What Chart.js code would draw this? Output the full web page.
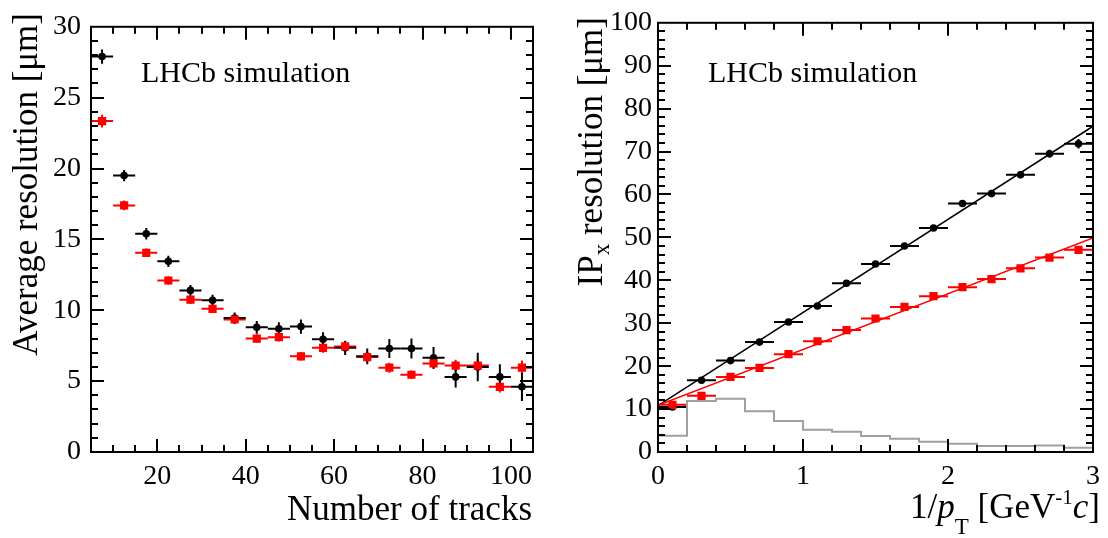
<!DOCTYPE html>
<html lang="en">
<head>
<script src="https://cdn.jsdelivr.net/npm/chart.js@4.4.0/dist/chart.umd.min.js"></script>
<style>
    html, body { margin: 0; padding: 0; background: #fff; }
    #wrap { position: relative; width: 1108px; height: 538px; }
    .panel { position: absolute; top: 0; width: 554px; height: 538px; }
</style>
</head>
<body>

<div id="wrap">
    <div class="panel" style="left:0"><canvas id="tracks-chart" width="554" height="538"></canvas></div>
    <div class="panel" style="left:554px"><canvas id="ip-chart" width="554" height="538"></canvas></div>
</div>

<script>
    // left: average resolution vs number of tracks (bins of 5)
    const nTracks  = [7.5, 12.5, 17.5, 22.5, 27.5, 32.5, 37.5, 42.5, 47.5, 52.5, 57.5, 62.5, 67.5, 72.5, 77.5, 82.5, 87.5, 92.5, 97.5, 102.5];
    const resBlack = [27.9, 19.5, 15.4, 13.45, 11.4, 10.7, 9.45, 8.8, 8.7, 8.85, 7.95, 7.35, 6.75, 7.3, 7.3, 6.65, 5.3, 6.0, 5.3, 4.6];
    const errBlack = [0.5, 0.4, 0.4, 0.4, 0.38, 0.4, 0.4, 0.45, 0.45, 0.5, 0.5, 0.5, 0.55, 0.67, 0.7, 0.75, 0.75, 1.0, 0.9, 1.0];
    const resRed   = [23.35, 17.4, 14.05, 12.1, 10.75, 10.1, 9.35, 8.0, 8.1, 6.75, 7.35, 7.45, 6.7, 5.95, 5.45, 6.25, 6.1, 6.1, 4.6, 5.95];
    const errRed   = [0.45, 0.35, 0.3, 0.3, 0.3, 0.3, 0.3, 0.3, 0.3, 0.3, 0.35, 0.35, 0.35, 0.35, 0.3, 0.4, 0.4, 0.5, 0.4, 0.5];
    const tracksXTicks = [20, 40, 60, 80, 100];
    const tracksYTicks = [0, 5, 10, 15, 20, 25, 30];

    // right: IP_x resolution vs 1/pT (bins of 0.2)
    const invPt     = [0.1, 0.3, 0.5, 0.7, 0.9, 1.1, 1.3, 1.5, 1.7, 1.9, 2.1, 2.3, 2.5, 2.7, 2.9];
    const ipBlack   = [10.5, 16.7, 21.3, 25.6, 30.3, 34.0, 39.3, 43.8, 48.0, 52.2, 57.9, 60.2, 64.6, 69.5, 71.8];
    const ipErrBlack= [0.3, 0.3, 0.3, 0.4, 0.4, 0.4, 0.5, 0.5, 0.6, 0.6, 0.7, 0.7, 0.8, 0.9, 1.1];
    const ipRed     = [11.0, 13.1, 17.5, 19.6, 22.8, 25.8, 28.4, 31.1, 33.8, 36.3, 38.4, 40.3, 42.8, 45.3, 47.1];
    const ipErrRed  = [0.3, 0.3, 0.3, 0.3, 0.4, 0.4, 0.4, 0.5, 0.5, 0.5, 0.6, 0.6, 0.6, 0.7, 0.8];
    const fitX      = [0, 3];
    const fitBlack  = [10.8, 75.9];
    const fitRed    = [10.9, 49.9];
    const histEdges = [0, 0.2, 0.4, 0.6, 0.8, 1.0, 1.2, 1.4, 1.6, 1.8, 2.0, 2.2, 2.4, 2.6, 2.8, 3.0];
    const histCounts= [3.8, 11.9, 12.4, 9.5, 7.25, 5.2, 4.7, 3.7, 3.1, 2.4, 1.9, 1.4, 1.4, 1.5, 1.0];
    const ipXTicks  = [0, 1, 2, 3];
    const ipYTicks  = [0, 10, 20, 30, 40, 50, 60, 70, 80, 90, 100];

    const SERIF = '"Liberation Serif", "Times New Roman", serif';
    const RED = "#ff0000";

    function pts(xs, ys) {
        return xs.map((x, i) => ({x: x, y: ys[i]}));
    }

    // error bars, drawn under the markers
    const errorBars = {
        id: "errorBars",
        beforeDatasetsDraw(chart) {
            const ctx = chart.ctx, xs = chart.scales.x, ys = chart.scales.y, a = chart.chartArea;
            ctx.save();
            ctx.beginPath();
            ctx.rect(a.left, a.top, a.width, a.height);
            ctx.clip();
            ctx.lineWidth = 2;
            chart.data.datasets.forEach(ds => {
                if (!ds.errY) return;
                ctx.strokeStyle = ds.backgroundColor;
                ds.data.forEach((p, i) => {
                    const px = xs.getPixelForValue(p.x), py = ys.getPixelForValue(p.y);
                    ctx.beginPath();
                    ctx.moveTo(xs.getPixelForValue(p.x - ds.halfBin), py);
                    ctx.lineTo(xs.getPixelForValue(p.x + ds.halfBin), py);
                    ctx.moveTo(px, ys.getPixelForValue(p.y - ds.errY[i]));
                    ctx.lineTo(px, ys.getPixelForValue(p.y + ds.errY[i]));
                    ctx.stroke();
                });
            });
            ctx.restore();
        }
    };

    // ROOT-like frame with ticks pointing inwards on all four sides
    function tickValues(min, max, step) {
        const out = [];
        for (let n = Math.ceil(min / step - 1e-9); n * step <= max + 1e-9; n++) out.push(n * step);
        return out;
    }
    function isMajor(v, major) {
        return Math.abs(v / major - Math.round(v / major)) < 1e-6;
    }
    function makeFrame(xMinor, xMajor, yMinor, yMajor) {
        return {
            id: "rootFrame",
            afterDatasetsDraw(chart) {
                const ctx = chart.ctx, a = chart.chartArea, xs = chart.scales.x, ys = chart.scales.y;
                ctx.save();
                ctx.strokeStyle = "#000";
                ctx.lineWidth = 2;
                ctx.strokeRect(a.left, a.top, a.width, a.height);
                ctx.beginPath();
                tickValues(xs.min, xs.max, xMinor).forEach(v => {
                    if (Math.abs(v - xs.min) < 1e-9 || Math.abs(v - xs.max) < 1e-9) return;
                    const len = isMajor(v, xMajor) ? 13 : 7;
                    const px = Math.round(xs.getPixelForValue(v));
                    ctx.moveTo(px, a.bottom); ctx.lineTo(px, a.bottom - len);
                    ctx.moveTo(px, a.top); ctx.lineTo(px, a.top + len);
                });
                tickValues(ys.min, ys.max, yMinor).forEach(v => {
                    if (Math.abs(v - ys.min) < 1e-9 || Math.abs(v - ys.max) < 1e-9) return;
                    const len = isMajor(v, yMajor) ? 13 : 7;
                    const py = Math.round(ys.getPixelForValue(v));
                    ctx.moveTo(a.left, py); ctx.lineTo(a.left + len, py);
                    ctx.moveTo(a.right, py); ctx.lineTo(a.right - len, py);
                });
                ctx.stroke();
                ctx.restore();
            }
        };
    }

    // text with sub/superscripts; segments are right-aligned at (x, y), optionally rotated
    function fontOf(s) {
        return (s.italic ? "italic " : "") + (s.size || 35) + "px " + SERIF;
    }
    function drawRich(ctx, segs, x, y, angle) {
        let total = 0;
        const widths = segs.map(s => {
            ctx.font = fontOf(s);
            const w = ctx.measureText(s.t).width;
            total += w;
            return w;
        });
        ctx.save();
        ctx.translate(x, y);
        ctx.rotate(angle);
        ctx.textAlign = "left";
        ctx.textBaseline = "alphabetic";
        ctx.fillStyle = "#000";
        let cx = -total;
        segs.forEach((s, i) => {
            ctx.font = fontOf(s);
            ctx.fillText(s.t, cx, s.shift || 0);
            cx += widths[i];
        });
        ctx.restore();
    }
    function makeTitles(cfg) {
        return {
            id: "titles",
            afterDraw(chart) {
                const ctx = chart.ctx;
                ctx.save();
                ctx.fillStyle = "#000";
                ctx.font = "30px " + SERIF;
                ctx.textAlign = "left";
                ctx.textBaseline = "alphabetic";
                ctx.fillText("LHCb simulation", cfg.tagX, 82);
                drawRich(ctx, cfg.xTitle, cfg.xTitleX, cfg.xTitleY, 0);
                drawRich(ctx, cfg.yTitle, cfg.yTitleX, cfg.yTitleY, -Math.PI / 2);
                ctx.restore();
            }
        };
    }

    function axis(min, max, ticks, fixed, horizontal, pad) {
        return {
            type: "linear", min: min, max: max,
            grid: {display: false, drawTicks: false},
            border: {display: false},
            ticks: {color: "#000", font: {family: SERIF, size: 28}, padding: pad, autoSkip: false, maxRotation: 0},
            afterBuildTicks: s => { s.ticks = ticks.map(v => ({value: v})); },
            afterFit: s => { if (horizontal) s.height = fixed; else s.width = fixed; }
        };
    }

    new Chart(document.getElementById("tracks-chart"), {
        type: "scatter",
        data: {
            datasets: [
                {data: pts(nTracks, resRed), errY: errRed, halfBin: 2.5, backgroundColor: RED, borderWidth: 0, pointStyle: "rect", pointRadius: 5.8},
                {data: pts(nTracks, resBlack), errY: errBlack, halfBin: 2.5, backgroundColor: "#000", borderWidth: 0, pointStyle: "circle", pointRadius: 3.8}
            ]
        },
        options: {
            responsive: false,
            animation: false,
            layout: {padding: {top: 17, right: 21, left: 0, bottom: 0}},
            scales: {
                x: axis(5, 105, tracksXTicks, 86, true, 8),
                y: axis(0, 30, tracksYTicks, 91, false, 10)
            },
            plugins: {legend: {display: false}, tooltip: {enabled: false}}
        },
        plugins: [
            errorBars,
            makeFrame(5, 20, 1, 5),
            makeTitles({
                tagX: 141,
                xTitle: [{t: "Number of tracks"}], xTitleX: 532, xTitleY: 520,
                yTitle: [{t: "Average resolution [\u03bcm]"}], yTitleX: 37, yTitleY: 13
            })
        ]
    });

    new Chart(document.getElementById("ip-chart"), {
        type: "scatter",
        data: {
            datasets: [
                {data: pts(invPt, ipRed), errY: ipErrRed, halfBin: 0.1, backgroundColor: RED, borderWidth: 0, pointStyle: "rect", pointRadius: 5.8},
                {data: pts(invPt, ipBlack), errY: ipErrBlack, halfBin: 0.1, backgroundColor: "#000", borderWidth: 0, pointStyle: "circle", pointRadius: 3.8},
                {data: pts(fitX, fitRed), showLine: true, borderColor: RED, borderWidth: 1.5, pointRadius: 0},
                {data: pts(fitX, fitBlack), showLine: true, borderColor: "#000", borderWidth: 1.5, pointRadius: 0},
                {data: histEdges.map((x, i) => ({x: x, y: histCounts[Math.min(i, histCounts.length - 1)]})),
                 showLine: true, stepped: true, borderColor: "#a0a0a0", borderWidth: 2, pointRadius: 0}
            ]
        },
        options: {
            responsive: false,
            animation: false,
            layout: {padding: {top: 17, right: 7, left: 0, bottom: 0}},
            scales: {
                x: axis(0, 3, ipXTicks, 86, true, 8),
                y: axis(0, 100, ipYTicks, 104, false, 6)
            },
            plugins: {legend: {display: false}, tooltip: {enabled: false}}
        },
        plugins: [
            errorBars,
            makeFrame(0.2, 1, 2, 10),
            makeTitles({
                tagX: 154,
                xTitle: [
                    {t: "1/"}, {t: "p", italic: true}, {t: "T", size: 23, shift: 16},
                    {t: " [GeV"}, {t: "-1", size: 21, shift: -14}, {t: "c", italic: true}, {t: "]"}
                ],
                xTitleX: 546, xTitleY: 518,
                yTitle: [{t: "IP"}, {t: "x", size: 23, shift: 7}, {t: " resolution [\u03bcm]"}],
                yTitleX: 48, yTitleY: 17
            })
        ]
    });
</script>

</body>
</html>
